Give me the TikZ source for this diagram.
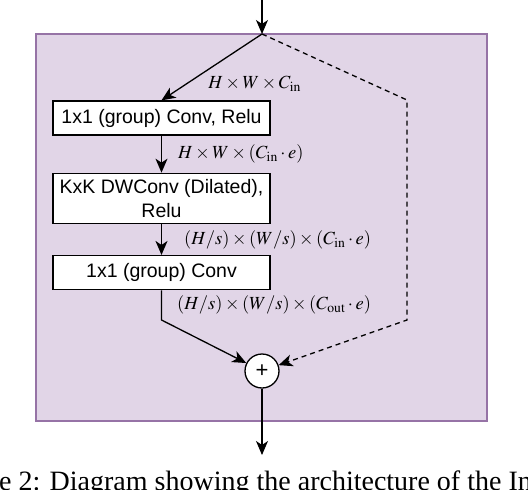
\documentclass[tikz,border=0pt]{standalone}
\usepackage{mathptmx}
\usepackage{fontspec}
\setmainfont{Liberation Serif}
\setsansfont{Liberation Sans}
\usepackage{xcolor}
\usetikzlibrary{positioning,arrows.meta,shapes.geometric}

\definecolor{blockfill}{HTML}{E1D5E7}
\definecolor{blockline}{HTML}{9673A6}

\begin{document}
\begin{tikzpicture}[x=1pt,y=-1pt,
  layer/.style={rectangle,draw,fill=white,line width=1.3pt,minimum width=217pt,minimum height=34pt,align=center,inner sep=2pt,font=\sffamily\fontsize{19.5}{24}\selectfont},
  addop/.style={circle,draw,fill=white,line width=1.3pt,minimum size=34pt,inner sep=0pt,font=\sffamily\fontsize{22}{22}\selectfont},
  dim/.style={font=\fontsize{18.5}{20}\selectfont,inner sep=0pt},
  arr/.style={-{Stealth[length=14pt,width=12pt,inset=4pt]},line width=1.3pt},
  skip/.style={-{Stealth[length=14pt,width=12pt,inset=4pt]},line width=1.3pt,dash pattern=on 5pt off 4pt},
  node distance=37pt]
  \useasboundingbox (0,0) rectangle (528,490);
  \clip (0,0) rectangle (528,490);
  % block background
  \draw[fill=blockfill,draw=blockline,line width=1.5pt](36,34) rectangle (487,421);
  \coordinate(in) at (262,-2);
  \coordinate(split) at (262,34);
  \node[layer](expand) at (161.5,118){1x1 (group) Conv, Relu};
  \node[layer,minimum height=50pt,below=of expand](dwconv){KxK DWConv (Dilated),\\Relu};
  \node[layer,below=31pt of dwconv](project){1x1 (group) Conv};
  \node[addop](add) at (262,371){+};
  \coordinate(out) at (262,455);
  \coordinate(mainbend) at (161.5,320);
  \coordinate(skiptop) at (407,100);
  \coordinate(skipbot) at (407,320);
  % main branch
  \draw[arr](in)--(split);
  \draw[arr](split)--(expand.north)node[dim,pos=0.45,anchor=base west,xshift=-9pt,yshift=-25pt]{$H\times W\times C_{\mathrm{in}}$};
  \draw[arr](expand)--node[dim,right=16pt]{$H\times W\times (C_{\mathrm{in}}\cdot e)$}(dwconv);
  \draw[arr](dwconv)--node[dim,right=22pt]{$(H/s)\times(W/s)\times(C_{\mathrm{in}}\cdot e)$}(project);
  \draw[arr](project)--node[dim,right=15pt]{$(H/s)\times(W/s)\times(C_{\mathrm{out}}\cdot e)$}(mainbend)--(add);
  % shortcut
  \draw[skip](split)--(skiptop)--(skipbot)--(add);
  \draw[arr](add)--(out);
  % caption
  \node[anchor=base west,inner sep=0pt,font=\fontsize{28}{30}\selectfont] (cap) at (-1,490){e 2: Diagram showing the architecture of the In};
\end{tikzpicture}
\end{document}
